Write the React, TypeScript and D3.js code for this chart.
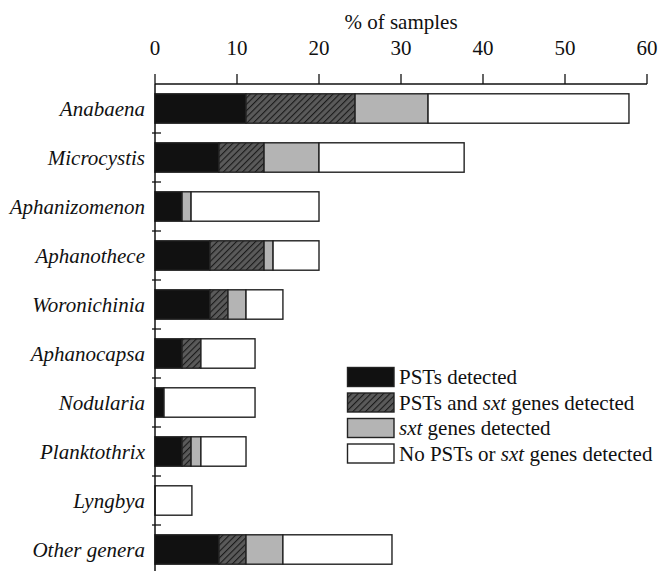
import React from "react";
import * as d3 from "d3";

const genera = [
  "Anabaena",
  "Microcystis",
  "Aphanizomenon",
  "Aphanothece",
  "Woronichinia",
  "Aphanocapsa",
  "Nodularia",
  "Planktothrix",
  "Lyngbya",
  "Other genera",
];

// % of samples per segment
const pstsDetected = [11.1, 7.8, 3.3, 6.7, 6.7, 3.3, 1.1, 3.3, 0, 7.8];
const pstsAndSxt = [13.3, 5.5, 0, 6.6, 2.2, 2.3, 0, 1.1, 0, 3.3];
const sxtDetected = [8.9, 6.7, 1.1, 1.1, 2.2, 0, 0, 1.2, 0, 4.5];
const noneDetected = [24.5, 17.7, 15.6, 5.6, 4.5, 6.6, 11.1, 5.5, 4.5, 13.3];

const xTicks = [0, 10, 20, 30, 40, 50, 60];

const seriesKeys = ["psts", "both", "sxt", "none"];

const W = 659;
const H = 571;
const left = 155;
const right = 647;
const axisY = 84;
const FONT = "Liberation Serif, Times New Roman, DejaVu Serif, serif";
const FS = 21;

export default function App() {
  const x = d3.scaleLinear().domain([0, 60]).range([left, right]);
  const y = d3
    .scaleBand<string>()
    .domain(genera)
    .range([axisY, axisY + 49 * 10])
    .paddingInner(0.4)
    .paddingOuter(0.2);

  const table = genera.map((g, i) => ({
    genus: g,
    psts: pstsDetected[i],
    both: pstsAndSxt[i],
    sxt: sxtDetected[i],
    none: noneDetected[i],
  }));
  const stacked = d3.stack<any>().keys(seriesKeys)(table);

  const fills: Record<string, string> = {
    psts: "#111111",
    both: "url(#hatch)",
    sxt: "#b4b4b4",
    none: "#ffffff",
  };

  const legendItems = [
    { key: "psts", parts: [{ t: "PSTs detected", i: false }] },
    {
      key: "both",
      parts: [
        { t: "PSTs and ", i: false },
        { t: "sxt", i: true },
        { t: " genes detected", i: false },
      ],
    },
    {
      key: "sxt",
      parts: [
        { t: "sxt", i: true },
        { t: " genes detected", i: false },
      ],
    },
    {
      key: "none",
      parts: [
        { t: "No PSTs or ", i: false },
        { t: "sxt", i: true },
        { t: " genes detected", i: false },
      ],
    },
  ];

  const boundaries = genera.slice(1).map((g, i) => {
    const prev = genera[i];
    return ((y(prev) as number) + y.bandwidth() + (y(g) as number)) / 2;
  });

  const textStyle = { fontFamily: FONT };

  return (
    <svg width={W} height={H} style={{ position: "absolute", left: 0, top: 0, background: "#fff" }}>
      <defs>
        <pattern id="hatch" patternUnits="userSpaceOnUse" width="4.5" height="4.5" patternTransform="rotate(45)">
          <rect width="4.5" height="4.5" fill="#5a5a5a" />
          <line x1="0" y1="0" x2="0" y2="4.5" stroke="#1a1a1a" strokeWidth="2.2" />
        </pattern>
      </defs>
      <rect width={W} height={H} fill="#fff" />
      {/* axis title */}
      <text x={(left + right) / 2} y={29} textAnchor="middle" style={textStyle} fontSize={FS} fill="#111">
        % of samples
      </text>
      {/* top axis */}
      <line x1={left} x2={right} y1={axisY} y2={axisY} stroke="#111" strokeWidth={1.5} />
      {xTicks.map((t) => (
        <g key={t}>
          <line x1={x(t)} x2={x(t)} y1={axisY - 10} y2={axisY} stroke="#111" strokeWidth={1.3} />
          <text x={x(t)} y={55} textAnchor="middle" style={textStyle} fontSize={FS} fill="#111">
            {t}
          </text>
        </g>
      ))}
      {/* bars */}
      {stacked.map((s) => (
        <g key={s.key}>
          {s.map((d, i) =>
            d[1] - d[0] > 0 ? (
              <rect
                key={i}
                x={x(d[0])}
                y={y(genera[i])}
                width={x(d[1]) - x(d[0])}
                height={y.bandwidth()}
                fill={fills[s.key]}
                stroke="#222"
                strokeWidth={1.4}
              />
            ) : null
          )}
        </g>
      ))}
      {/* left axis */}
      <line x1={left} x2={left} y1={axisY} y2={H} stroke="#111" strokeWidth={1.5} />
      {boundaries.map((b, i) => (
        <line key={i} x1={left - 3} x2={left + 6} y1={b} y2={b} stroke="#111" strokeWidth={1.3} />
      ))}
      {genera.map((g) => (
        <text
          key={g}
          x={145}
          y={(y(g) as number) + y.bandwidth() / 2}
          dy="0.35em"
          textAnchor="end"
          style={textStyle}
          fontStyle="italic"
          fontSize={FS}
          fill="#111"
        >
          {g}
        </text>
      ))}
      {/* legend */}
      {legendItems.map((it, i) => {
        const top = 367.5 + i * 25.5;
        return (
          <g key={it.key}>
            <rect x={347.5} y={top} width={46.5} height={19} fill={fills[it.key]} stroke="#222" strokeWidth={1.4} />
            <text x={399} y={top + 9.5} dy="0.35em" style={textStyle} fontSize={FS} fill="#111">
              {it.parts.map((p, j) => (
                <tspan key={j} fontStyle={p.i ? "italic" : "normal"}>
                  {p.t}
                </tspan>
              ))}
            </text>
          </g>
        );
      })}
    </svg>
  );
}
